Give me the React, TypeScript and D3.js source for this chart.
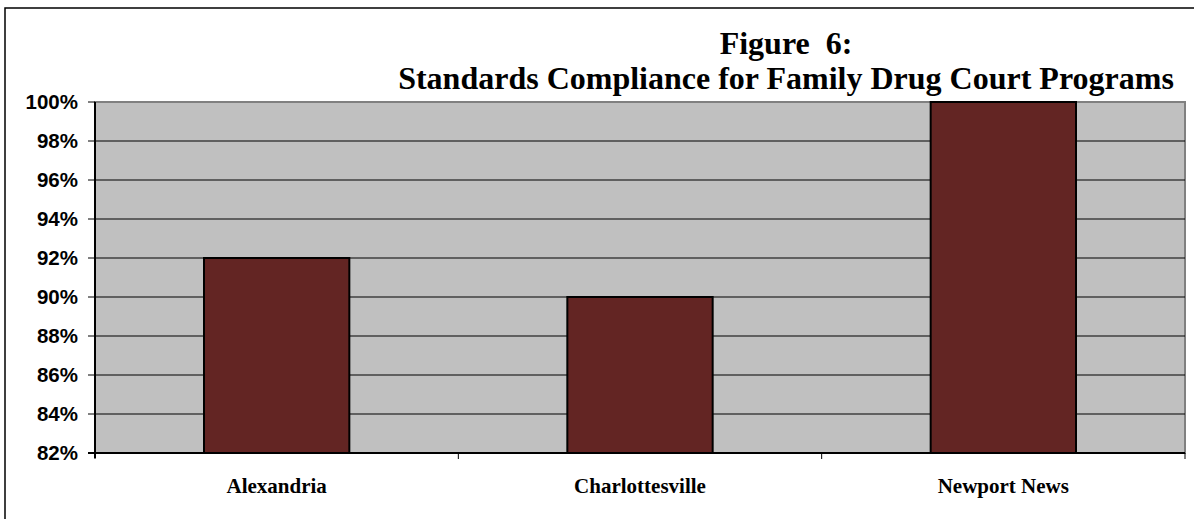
import React from "react";
import * as d3 from "d3";

const categories = ["Alexandria", "Charlottesville", "Newport News"];
const values = [92, 90, 100];
const yTicks = [82, 84, 86, 88, 90, 92, 94, 96, 98, 100];
const titleLines = ["Figure  6:", "Standards Compliance for Family Drug Court Programs"];

const W = 1194;
const H = 519;
const plot = { left: 95, right: 1185, top: 102, bottom: 453 };

export default function App() {
  const x = d3
    .scaleBand<string>()
    .domain(categories)
    .range([plot.left, plot.right])
    .paddingInner(0.6)
    .paddingOuter(0.3);
  const xOuter = d3.scaleBand<string>().domain(categories).range([plot.left, plot.right]);
  const y = d3.scaleLinear().domain([82, 100]).range([plot.bottom, plot.top]);
  const boundaries = categories.map((c) => xOuter(c) as number).concat([plot.right]);

  const serif = "'Liberation Serif', 'Times New Roman', serif";
  const sans = "'Liberation Sans', Arial, sans-serif";

  return (
    <svg
      width={W}
      height={H}
      style={{ position: "absolute", left: 0, top: 0, background: "#fff" }}
    >
      {/* outer frame (cropped at right and bottom) */}
      <rect x={5} y={8} width={W + 20} height={H + 20} fill="#fff" stroke="#000" strokeWidth={1.5} />

      {/* plot background */}
      <rect
        x={plot.left}
        y={plot.top}
        width={plot.right - plot.left}
        height={plot.bottom - plot.top}
        fill="#C0C0C0"
        stroke="#808080"
        strokeWidth={2}
      />

      {/* gridlines */}
      {yTicks
        .filter((t) => t !== 82 && t !== 100)
        .map((t) => (
          <line key={"g" + t} x1={plot.left} x2={plot.right} y1={y(t)} y2={y(t)} stroke="#000" strokeWidth={1} />
        ))}

      {/* bars */}
      {categories.map((c, i) => (
        <rect
          key={c}
          x={x(c)}
          y={y(values[i])}
          width={x.bandwidth()}
          height={y(82) - y(values[i])}
          fill="#632523"
          stroke="#000"
          strokeWidth={2}
        />
      ))}

      {/* y axis */}
      <line x1={plot.left} x2={plot.left} y1={plot.top} y2={plot.bottom + 5} stroke="#000" strokeWidth={2} />
      {yTicks.map((t) => (
        <g key={"t" + t}>
          <line x1={plot.left - 7} x2={plot.left} y1={y(t)} y2={y(t)} stroke="#000" strokeWidth={1} />
          <text
            x={78}
            y={y(t)}
            dy="0.36em"
            textAnchor="end"
            fontFamily={sans}
            fontWeight="bold"
            fontSize={20.5}
            fill="#000"
          >
            {t}%
          </text>
        </g>
      ))}

      {/* x axis */}
      <line x1={plot.left - 7} x2={plot.right} y1={plot.bottom} y2={plot.bottom} stroke="#000" strokeWidth={2} />
      {boundaries.map((b, i) => (
        <line key={"xb" + i} x1={b} x2={b} y1={plot.bottom} y2={plot.bottom + 6} stroke="#000" strokeWidth={1} />
      ))}
      {categories.map((c) => (
        <text
          key={"l" + c}
          x={(xOuter(c) as number) + xOuter.bandwidth() / 2}
          y={493}
          textAnchor="middle"
          fontFamily={serif}
          fontWeight="bold"
          fontSize={21}
          fill="#000"
        >
          {c}
        </text>
      ))}

      {/* title */}
      {titleLines.map((t, i) => (
        <text
          key={"ti" + i}
          x={786}
          y={i === 0 ? 54 : 89}
          textAnchor="middle"
          fontFamily={serif}
          fontWeight="bold"
          fontSize={32}
          fill="#000"
          style={{ whiteSpace: "pre" }}
        >
          {t}
        </text>
      ))}
    </svg>
  );
}
